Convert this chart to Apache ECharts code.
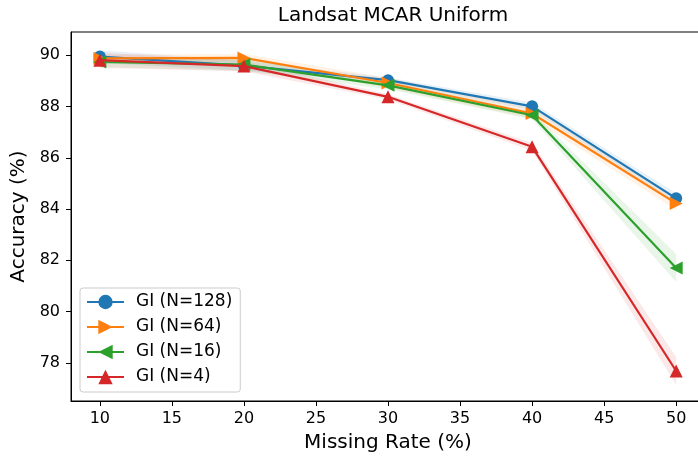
<!DOCTYPE html>
<html>
<head>
<meta charset="utf-8">
<script src="https://cdn.jsdelivr.net/npm/echarts@6/dist/echarts.min.js"></script>
<style>
html, body { margin: 0; padding: 0; background: #fff; }
#chart { width: 698px; height: 457px; }
</style>
</head>
<body>
<div id="chart"></div>
<script>
// data
const missingRate = [10, 20, 30, 40, 50]
const names = ['GI (N=128)', 'GI (N=64)', 'GI (N=16)', 'GI (N=4)']
const acc128 = [89.95, 89.6, 89.03, 88.01, 84.42]
const acc64 = [89.88, 89.9, 88.92, 87.73, 84.22]
const acc16 = [89.74, 89.64, 88.83, 87.66, 81.7]
const acc4 = [89.81, 89.58, 88.38, 86.43, 77.68]
const std128 = [0.25, 0.2, 0.1, 0.15, 0.2]
const std64 = [0.15, 0.15, 0.2, 0.2, 0.25]
const std16 = [0.2, 0.25, 0.15, 0.15, 0.55]
const std4 = [0.3, 0.2, 0.1, 0.15, 0.55]
const xTicks = [10, 15, 20, 25, 30, 35, 40, 45, 50]
const yTicks = [78, 80, 82, 84, 86, 88, 90]

const colors = ['#1f77b4', '#ff7f0e', '#2ca02c', '#d62728']
const symbols = ['circle', 'triangle', 'triangle', 'triangle']
const rotates = [0, -90, 90, 0]
const means = [acc128, acc64, acc16, acc4]
const stds = [std128, std64, std16, std4]
const font = 'DejaVu Sans'

const chart = echarts.init(document.getElementById('chart'))

// shaded +-std band, one trapezoid per segment
const bandSeries = means.map((m, k) => {
  const segs = []
  for (let i = 0; i < missingRate.length - 1; i++) {
    segs.push([
      missingRate[i], m[i] - stds[k][i], m[i] + stds[k][i],
      missingRate[i + 1], m[i + 1] - stds[k][i + 1], m[i + 1] + stds[k][i + 1]
    ])
  }
  return {
    type: 'custom',
    name: 'band' + k,
    z: 1,
    silent: true,
    data: segs,
    renderItem: function (params, api) {
      const p = [
        api.coord([api.value(0), api.value(1)]),
        api.coord([api.value(3), api.value(4)]),
        api.coord([api.value(3), api.value(5)]),
        api.coord([api.value(0), api.value(2)])
      ]
      return {
        type: 'polygon',
        shape: { points: p },
        style: { fill: colors[k], opacity: 0.1 }
      }
    }
  }
})

const lineSeries = means.map((m, k) => ({
  type: 'line',
  name: names[k],
  z: 3 + k,
  data: missingRate.map((x, i) => [x, m[i]]),
  symbol: symbols[k],
  symbolRotate: rotates[k],
  symbolSize: k === 0 ? 12 : 13,
  showAllSymbol: true,
  lineStyle: { color: colors[k], width: 2.2 },
  itemStyle: { color: colors[k] },
  emphasis: { disabled: true }
}))

const option = {
  animation: false,
  textStyle: { fontFamily: font },
  title: {
    text: 'Landsat MCAR Uniform',
    left: 388,
    textAlign: 'center',
    top: 1,
    textStyle: { fontFamily: font, fontSize: 20, fontWeight: 'normal', color: '#000' }
  },
  grid: {
    left: 71,
    top: 32,
    width: 634,
    bottom: 56,
    show: true,
    borderColor: '#000',
    borderWidth: 1,
    outerBoundsMode: 'none'
  },
  legend: {
    data: names,
    orient: 'vertical',
    left: 80,
    top: 288,
    padding: [5, 8, 6, 6],
    itemGap: 7,
    itemWidth: 37,
    itemHeight: 18,
    borderColor: '#cccccc',
    borderWidth: 1,
    borderRadius: 3,
    backgroundColor: 'rgba(255,255,255,0.8)',
    textStyle: { fontFamily: font, fontSize: 17, color: '#000', lineHeight: 18, padding: [0, 0, 0, 7] }
  },
  xAxis: {
    type: 'value',
    min: 8,
    max: 52,
    name: 'Missing Rate (%)',
    nameLocation: 'middle',
    nameGap: 32,
    nameTextStyle: { fontFamily: font, fontSize: 20, color: '#000' },
    splitLine: { show: false },
    axisLine: { show: true, lineStyle: { color: '#000', width: 1 } },
    axisTick: { show: true, length: 5, customValues: xTicks, lineStyle: { color: '#000' } },
    axisLabel: { customValues: xTicks, margin: 10, fontFamily: font, fontSize: 16, color: '#000' }
  },
  yAxis: {
    type: 'value',
    min: 76.51,
    max: 90.91,
    name: 'Accuracy (%)',
    nameLocation: 'middle',
    nameGap: 37,
    nameTextStyle: { fontFamily: font, fontSize: 20, color: '#000' },
    splitLine: { show: false },
    axisLine: { show: true, lineStyle: { color: '#000', width: 1 } },
    axisTick: { show: true, length: 5, customValues: yTicks, lineStyle: { color: '#000' } },
    axisLabel: { customValues: yTicks, margin: 11, fontFamily: font, fontSize: 16, color: '#000' }
  },
  series: bandSeries.concat(lineSeries)
}

option && chart.setOption(option)
window.addEventListener('resize', function () {
  chart.resize()
})
</script>
</body>
</html>
